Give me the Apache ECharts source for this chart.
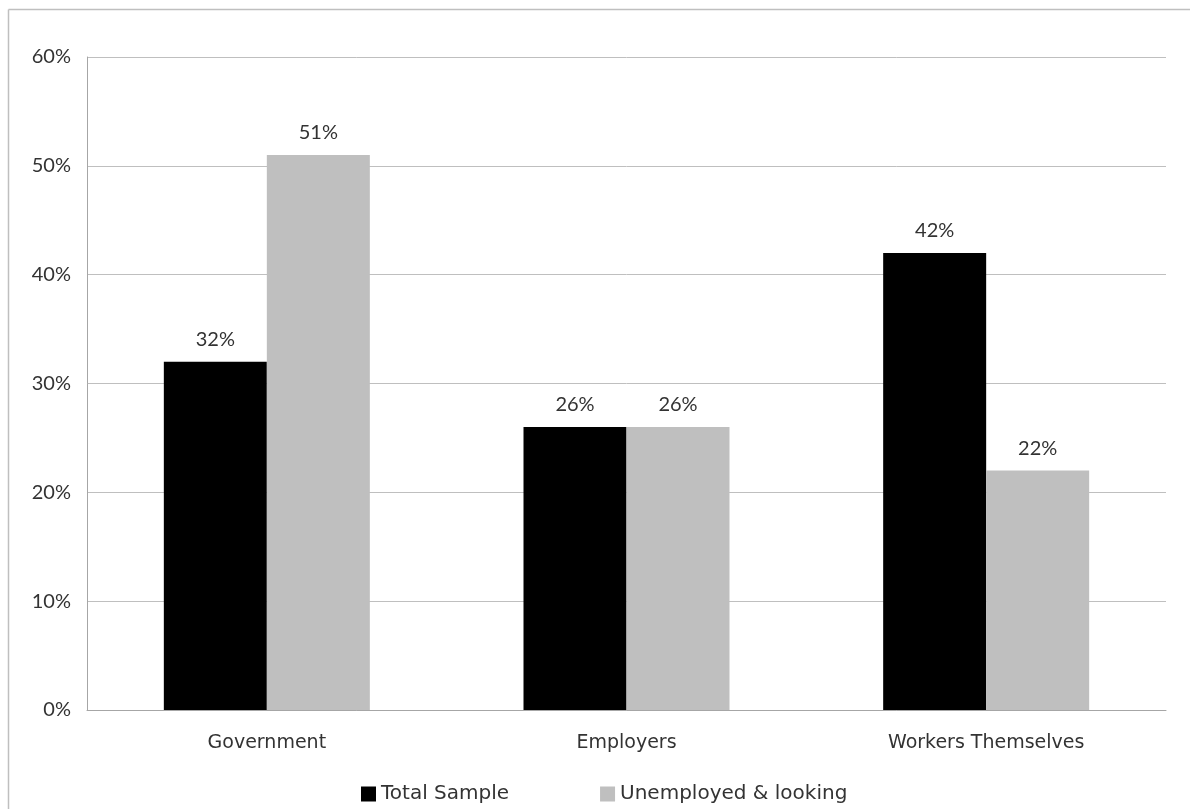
<!DOCTYPE html>
<html>
<head>
<meta charset="utf-8">
<script src="https://cdn.jsdelivr.net/npm/echarts@6/dist/echarts.min.js"></script>
<style>
html,body{margin:0;padding:0;background:#fff;}
#main{width:1190px;height:809px;}
</style>
</head>
<body>
<div id="main"></div>
<script>
var categories = ['Government', 'Employers', 'Workers Themselves'];
var seriesNames = ['Total Sample', 'Unemployed & looking'];
var totalSample = [32, 26, 42];
var unemployedLooking = [51, 26, 22];
var yTicks = [0, 10, 20, 30, 40, 50, 60];

var NUMFONT = 'Lato';
var TXTFONT = 'DejaVu Sans';
var TXT = '#333333';
var chart = echarts.init(document.getElementById('main'), null, {renderer: 'canvas'});
var option = {
  animation: false,
  backgroundColor: '#ffffff',
  graphic: [{
    type: 'line', silent: true,
    shape: {x1: 8.5, y1: 9.5, x2: 1190, y2: 9.5},
    style: {stroke: '#bfbfbf', lineWidth: 1.5}
  }, {
    type: 'line', silent: true,
    shape: {x1: 8.5, y1: 9.5, x2: 8.5, y2: 809},
    style: {stroke: '#bfbfbf', lineWidth: 1.5}
  }],
  grid: {left: 87, right: 24, top: 57, bottom: 99, containLabel: false},
  legend: {
    top: 779, left: 356,
    itemWidth: 15, itemHeight: 15, itemGap: 91,
    icon: 'rect',
    textStyle: {fontFamily: TXTFONT, fontSize: 20, color: TXT},
    data: seriesNames
  },
  xAxis: {
    type: 'category', data: categories,
    axisLine: {show: true, lineStyle: {color: '#a6a6a6', width: 1}},
    axisTick: {show: false},
    axisLabel: {fontFamily: TXTFONT, fontSize: 19, color: TXT, margin: 24}
  },
  yAxis: {
    type: 'value', min: yTicks[0], max: yTicks[yTicks.length - 1], interval: 10,
    axisLine: {show: true, lineStyle: {color: '#a6a6a6', width: 1}},
    axisTick: {show: false},
    splitLine: {lineStyle: {color: '#bfbfbf', width: 1}},
    axisLabel: {fontFamily: NUMFONT, fontSize: 20, color: TXT, margin: 16, formatter: '{value}%'}
  },
  series: [{
    name: seriesNames[0], type: 'bar', data: totalSample,
    barWidth: 103, barGap: '0%',
    itemStyle: {color: '#000000'},
    label: {show: true, position: 'top', distance: 12, formatter: '{c}%', fontFamily: NUMFONT, fontSize: 20, color: TXT}
  }, {
    name: seriesNames[1], type: 'bar', data: unemployedLooking,
    barWidth: 103,
    itemStyle: {color: '#bfbfbf'},
    label: {show: true, position: 'top', distance: 12, formatter: '{c}%', fontFamily: NUMFONT, fontSize: 20, color: TXT}
  }]
};
chart.setOption(option);
</script>
</body>
</html>
